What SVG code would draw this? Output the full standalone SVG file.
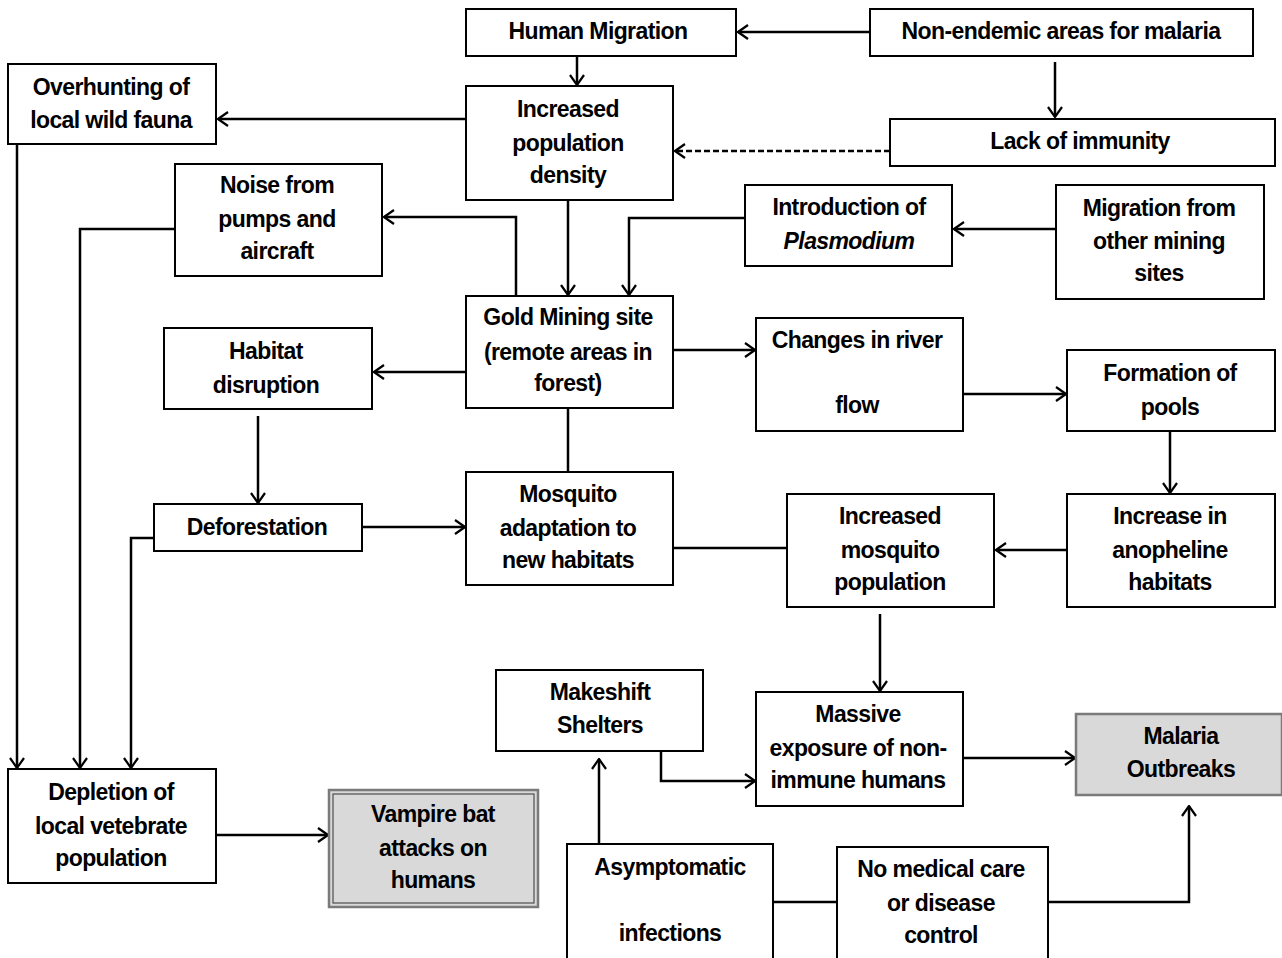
<svg xmlns="http://www.w3.org/2000/svg" width="1282" height="958" viewBox="0 0 1282 958">
<defs>
<marker id="ah" viewBox="0 0 12 16" refX="11" refY="8" markerWidth="12" markerHeight="16" markerUnits="userSpaceOnUse" orient="auto">
<path d="M1,1 L11,8 L1,15" fill="none" stroke="#000" stroke-width="2.2"/>
</marker>
<style>
.b{fill:#fff;stroke:#000;stroke-width:2}
.g{fill:#d9d9d9;stroke:#7a7a7a;stroke-width:2.5}
.gi{fill:none;stroke:#4d4d4d;stroke-width:1.2}
text{font-family:"Liberation Sans Narrow","Liberation Sans",Arial,sans-serif;font-weight:bold;font-size:23px;text-anchor:middle;fill:#000;letter-spacing:-0.6px}
.c{fill:none;stroke:#000;stroke-width:2.5}
.a{marker-end:url(#ah)}
.d{stroke-dasharray:6,3}
</style>
</defs>
<g id="connectors">
<path class="c a" d="M870,32 H738"/>
<path class="c a" d="M577,56 V85"/>
<path class="c a" d="M1055,62 V117"/>
<path class="c a d" d="M890,151 H675"/>
<path class="c a" d="M466,119 H218"/>
<path class="c a" d="M17,144 V768"/>
<path class="c a" d="M568,200 V295"/>
<path class="c a" d="M516,296 V217 H384"/>
<path class="c a" d="M745,218 H629 V295"/>
<path class="c a" d="M1056,229 H954"/>
<path class="c a" d="M175,229 H80 V768"/>
<path class="c a" d="M466,372 H374"/>
<path class="c a" d="M673,350 H755"/>
<path class="c" d="M568,408 V472"/>
<path class="c a" d="M258,416 V503"/>
<path class="c a" d="M362,527 H465"/>
<path class="c a" d="M154,538 H131 V768"/>
<path class="c a" d="M963,394 H1066"/>
<path class="c a" d="M1170,431 V493"/>
<path class="c a" d="M1067,550 H996"/>
<path class="c" d="M673,548 H787"/>
<path class="c a" d="M880,614 V691"/>
<path class="c a" d="M661,751 V781 H755"/>
<path class="c a" d="M599,844 V759"/>
<path class="c a" d="M963,758 H1075"/>
<path class="c" d="M773,902 H837"/>
<path class="c a" d="M1048,902 H1189 V806"/>
<path class="c a" d="M216,835 H328"/>
</g>
<g id="n-human-migration"><rect class="b" x="466" y="9" width="270" height="47"/><text x="598" y="39">Human Migration</text></g>
<g id="n-non-endemic"><rect class="b" x="870" y="9" width="383" height="47"/><text x="1061" y="39">Non-endemic areas for malaria</text></g>
<g id="n-overhunting"><rect class="b" x="8" y="64" width="208" height="80"/><text x="111" y="95">Overhunting of</text><text x="111" y="128">local wild fauna</text></g>
<g id="n-pop-density"><rect class="b" x="466" y="86" width="207" height="114"/><text x="568" y="117">Increased</text><text x="568" y="151">population</text><text x="568" y="183">density</text></g>
<g id="n-lack-immunity"><rect class="b" x="890" y="119" width="385" height="47"/><text x="1080" y="149">Lack of immunity</text></g>
<g id="n-noise"><rect class="b" x="175" y="164" width="207" height="112"/><text x="277" y="193">Noise from</text><text x="277" y="227">pumps and</text><text x="277" y="259">aircraft</text></g>
<g id="n-plasmodium"><rect class="b" x="745" y="185" width="207" height="81"/><text x="849" y="215">Introduction of</text><text x="849" y="249" font-style="italic">Plasmodium</text></g>
<g id="n-migration-mining"><rect class="b" x="1056" y="185" width="208" height="114"/><text x="1159" y="216">Migration from</text><text x="1159" y="249">other mining</text><text x="1159" y="281">sites</text></g>
<g id="n-gold-mining"><rect class="b" x="466" y="296" width="207" height="112"/><text x="568" y="325">Gold Mining site</text><text x="568" y="360">(remote areas in</text><text x="568" y="391">forest)</text></g>
<g id="n-habitat"><rect class="b" x="164" y="328" width="208" height="81"/><text x="266" y="359">Habitat</text><text x="266" y="393">disruption</text></g>
<g id="n-river"><rect class="b" x="756" y="318" width="207" height="113"/><text x="857" y="348">Changes in river</text><text x="857" y="413">flow</text></g>
<g id="n-pools"><rect class="b" x="1067" y="350" width="208" height="81"/><text x="1170" y="381">Formation of</text><text x="1170" y="415">pools</text></g>
<g id="n-deforestation"><rect class="b" x="154" y="504" width="208" height="47"/><text x="257" y="535">Deforestation</text></g>
<g id="n-mosquito-adaptation"><rect class="b" x="466" y="472" width="207" height="113"/><text x="568" y="502">Mosquito</text><text x="568" y="536">adaptation  to</text><text x="568" y="568">new habitats</text></g>
<g id="n-mosquito-pop"><rect class="b" x="787" y="494" width="207" height="113"/><text x="890" y="524">Increased</text><text x="890" y="558">mosquito</text><text x="890" y="590">population</text></g>
<g id="n-anopheline"><rect class="b" x="1067" y="494" width="208" height="113"/><text x="1170" y="524">Increase in</text><text x="1170" y="558">anopheline</text><text x="1170" y="590">habitats</text></g>
<g id="n-shelters"><rect class="b" x="496" y="670" width="207" height="81"/><text x="600" y="700">Makeshift</text><text x="600" y="733">Shelters</text></g>
<g id="n-exposure"><rect class="b" x="756" y="692" width="207" height="114"/><text x="858" y="722">Massive</text><text x="858" y="756">exposure of non-</text><text x="858" y="788">immune humans</text></g>
<g id="n-malaria"><rect class="g" x="1076" y="714" width="206" height="81"/><text x="1181" y="744">Malaria</text><text x="1181" y="777">Outbreaks</text></g>
<g id="n-depletion"><rect class="b" x="8" y="769" width="208" height="114"/><text x="111" y="800">Depletion of</text><text x="111" y="834">local vetebrate</text><text x="111" y="866">population</text></g>
<g id="n-vampire"><rect class="g" x="329" y="790" width="209" height="117"/><rect class="gi" x="333" y="794" width="201" height="109"/><text x="433" y="822">Vampire bat</text><text x="433" y="856">attacks on</text><text x="433" y="888">humans</text></g>
<g id="n-asymptomatic"><rect class="b" x="567" y="844" width="206" height="116"/><text x="670" y="875">Asymptomatic</text><text x="670" y="941">infections</text></g>
<g id="n-no-medical"><rect class="b" x="837" y="847" width="211" height="113"/><text x="941" y="877">No medical care</text><text x="941" y="911">or disease</text><text x="941" y="943">control</text></g>
</svg>
